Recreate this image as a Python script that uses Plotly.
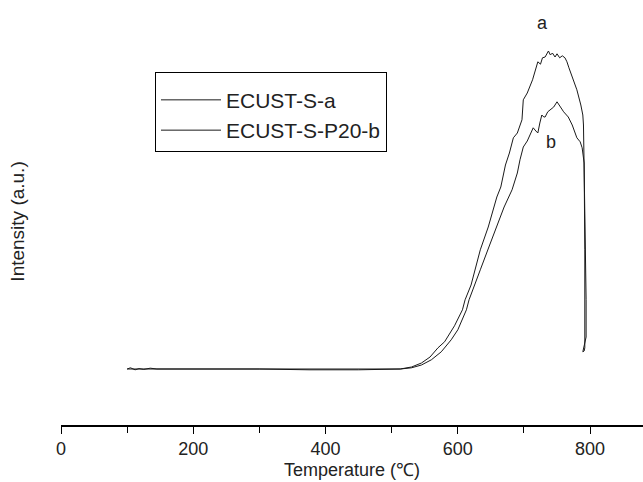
import plotly.graph_objects as go

# Temperature (°C) and intensity (a.u.)
temp_a = [100, 105, 112, 118, 125, 135, 145, 200, 300, 375, 450, 513, 530, 545, 558, 570, 580, 595, 607,
          611, 620, 627, 634, 646, 659, 665, 672, 678, 684, 690, 697, 699, 705, 713, 717, 721, 725, 728, 732, 735,
          737, 740, 743, 747, 750, 754, 758, 762, 765, 768, 773, 780, 786, 789, 790, 792, 794, 794, 792, 791, 789]
int_a = [14.0, 14.3, 13.8, 14.1, 13.9, 14.2, 14.0, 14.0, 14.0, 14.0, 13.9, 14.0, 14.5, 15.5, 17.0, 19.3, 20.8, 24.8, 28.8,
         31.3, 35.0, 39.5, 43.8, 49.5, 57.0, 59.5, 65.0, 68.0, 71.8, 73.0, 76.3, 81.3, 83.0, 86.3, 88.5, 90.8, 90.2, 91.8, 92.0, 93.0,
         93.5, 92.5, 93.0, 92.0, 92.8, 91.8, 92.3, 91.8, 90.8, 89.3, 86.8, 83.8, 80.0, 77.5, 75.0, 56.3, 31.3, 22.0, 20.5, 19.5, 18.3]

temp_b = [100, 200, 300, 375, 450, 513, 530, 545, 560, 575, 590, 600, 613, 617, 625, 634, 647, 660, 670, 682, 690,
          694, 699, 705, 710, 714, 718, 721, 724, 727, 730, 732, 736, 740, 745, 750, 755, 760, 767, 773, 780,
          785, 788, 791, 792, 793, 792, 791, 789]
int_b = [14.0, 14.0, 14.0, 13.8, 13.8, 14.0, 14.3, 15.0, 16.3, 18.3, 21.3, 23.8, 28.8, 31.3, 35.0, 38.8, 44.5, 50.0, 54.5, 58.8, 63.0,
         66.3, 69.5, 71.0, 73.0, 74.3, 73.5, 73.0, 75.5, 77.5, 77.0, 77.0, 78.3, 78.8, 79.5, 80.8, 79.5, 78.3, 77.0, 75.0, 71.8,
         70.8, 69.3, 65.5, 43.8, 21.3, 19.3, 18.5, 18.3]

x_ticks = [0, 200, 400, 600, 800]
font = "Liberation Sans, Arial, sans-serif"
ink = "#222222"

fig = go.Figure()
fig.add_trace(go.Scatter(x=temp_a, y=int_a, mode="lines", name="ECUST-S-a",
                         line=dict(color="#1a1a1a", width=1)))
fig.add_trace(go.Scatter(x=temp_b, y=int_b, mode="lines", name="ECUST-S-P20-b",
                         line=dict(color="#1a1a1a", width=1)))

fig.add_annotation(x=728, y=100.5, text="a", showarrow=False, font=dict(size=18, color=ink))
fig.add_annotation(x=741, y=70.8, text="b", showarrow=False, font=dict(size=18, color=ink))

# axis titles placed as annotations so they sit where the reference has them
fig.add_annotation(xref="paper", yref="paper", x=0.5, y=-0.1333, xanchor="center", yanchor="bottom",
                   text="Temperature (℃)", showarrow=False, font=dict(size=18, color=ink),
                   borderpad=0)
fig.add_annotation(xref="paper", yref="paper", x=-0.074, y=0.484, xanchor="center", yanchor="middle",
                   text="Intensity (a.u.)", textangle=-90, showarrow=False, font=dict(size=19, color=ink))

fig.update_layout(
    width=643, height=482,
    margin=dict(l=61, r=0, t=5, b=57),
    paper_bgcolor="white", plot_bgcolor="white",
    font=dict(family=font, size=18, color=ink),
    showlegend=True,
    legend=dict(x=0.1615, y=0.84, xanchor="left", yanchor="top",
                bordercolor="black", borderwidth=1, bgcolor="white",
                font=dict(size=21, family=font, color=ink), itemwidth=60,
                tracegroupgap=0,
                title=dict(text=" ", font=dict(size=5))),
)
fig.update_xaxes(range=[0, 880], tickvals=x_ticks, ticks="outside", ticklen=7, tickwidth=1.2,
                 tickcolor="black", showline=True, linecolor="black", linewidth=1.5,
                 showgrid=False, zeroline=False,
                 minor=dict(dtick=100, tick0=0, ticks="outside", ticklen=6, tickcolor="black", tickwidth=1.2),
                 tickfont=dict(size=18))
fig.update_yaxes(range=[0, 105], showticklabels=False, showline=False, showgrid=False,
                 zeroline=False, ticks="")

# remove the browser's default 8px page margin so the figure sits at the window's top-left corner
fig.write_html("out.html", config={"displayModeBar": False},
               post_script="document.body.style.margin='0';")
